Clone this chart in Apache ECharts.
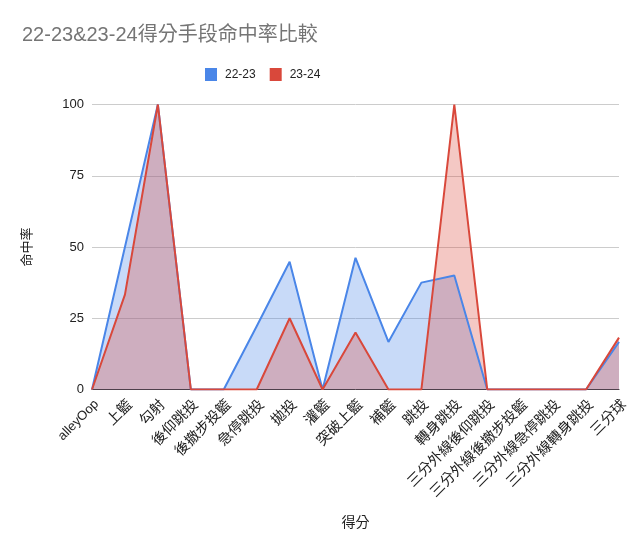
<!DOCTYPE html>
<html>
<head>
<meta charset="utf-8">
<script src="https://cdn.jsdelivr.net/npm/echarts@6/dist/echarts.min.js"></script>
<style>
  html, body { margin: 0; padding: 0; background: #fff; }
  #chart { width: 640px; height: 546px; }
</style>
</head>
<body>
<div id="chart"></div>
<script>
// Shot types (scoring methods)
const categories = [
  'alleyOop', '上籃', '勾射', '後仰跳投', '後撤步投籃', '急停跳投', '拋投', '灌籃',
  '突破上籃', '補籃', '跳投', '轉身跳投', '三分外線後仰跳投', '三分外線後撤步投籃',
  '三分外線急停跳投', '三分外線轉身跳投', '三分球'
];
// Field-goal percentage per shot type, by season
const season2223 = [0, 50, 100, 0, 0, 22.2, 44.8, 0, 46.2, 16.7, 37.5, 40, 0, 0, 0, 0, 16.7];
const season2324 = [0, 33.3, 100, 0, 0, 0, 25, 0, 20, 0, 0, 100, 0, 0, 0, 0, 18.2];
const yTicks = [0, 25, 50, 75, 100];

const font = '"Liberation Sans", Arial, "Noto Sans CJK TC", "Noto Sans CJK SC", sans-serif';
const chart = echarts.init(document.getElementById('chart'));

chart.setOption({
  animation: false,
  textStyle: { fontFamily: font },
  title: {
    text: '22-23&23-24得分手段命中率比較',
    left: 17, top: 20,
    textStyle: { fontSize: 20, fontWeight: 'normal', color: '#757575', fontFamily: font }
  },
  legend: {
    top: 63, left: 200,
    itemWidth: 12, itemHeight: 13, itemGap: 14,
    icon: 'rect',
    textStyle: { fontSize: 12, color: '#222', fontFamily: font, padding: [0, 0, 0, 3] },
    data: ['22-23', '23-24']
  },
  grid: { left: 92, right: 21, top: 104.5, bottom: 156.5 },
  xAxis: {
    type: 'category',
    data: categories,
    boundaryGap: false,
    name: '得分',
    nameLocation: 'middle',
    nameGap: 127,
    nameTextStyle: { fontSize: 14, color: '#222', fontFamily: font },
    axisLine: { lineStyle: { color: '#333', width: 1 } },
    axisTick: { show: false },
    axisLabel: {
      rotate: 45, fontSize: 14.5, color: '#222', margin: 8, interval: 0, fontFamily: font,
      verticalAlign: 'top',
      // Latin category names use a smaller size than the CJK ones
      formatter: v => (/^[A-Za-z]+$/.test(v) ? '{lat|' + v + '}' : v),
      rich: { lat: { fontSize: 13, color: '#222', fontFamily: font } }
    }
  },
  yAxis: {
    type: 'value',
    min: 0, max: 100, interval: 25,
    name: '命中率',
    nameLocation: 'middle',
    nameGap: 58,
    nameRotate: 90,
    nameTextStyle: { fontSize: 13, color: '#222', fontFamily: font },
    axisLabel: {
      fontSize: 13, color: '#222', margin: 8, fontFamily: font,
      formatter: v => (yTicks.includes(v) ? String(v) : '')
    },
    axisLine: { show: false },
    axisTick: { show: false },
    splitLine: { lineStyle: { color: '#cccccc', width: 1 } }
  },
  series: [
    {
      name: '22-23',
      type: 'line',
      data: season2223,
      symbol: 'none',
      color: '#4a86e8',
      lineStyle: { width: 2, color: '#4a86e8' },
      areaStyle: { color: '#4a86e8', opacity: 0.3 }
    },
    {
      name: '23-24',
      type: 'line',
      data: season2324,
      symbol: 'none',
      color: '#d9483b',
      lineStyle: { width: 2, color: '#d9483b' },
      areaStyle: { color: '#d9483b', opacity: 0.3 }
    }
  ]
});
</script>
</body>
</html>
